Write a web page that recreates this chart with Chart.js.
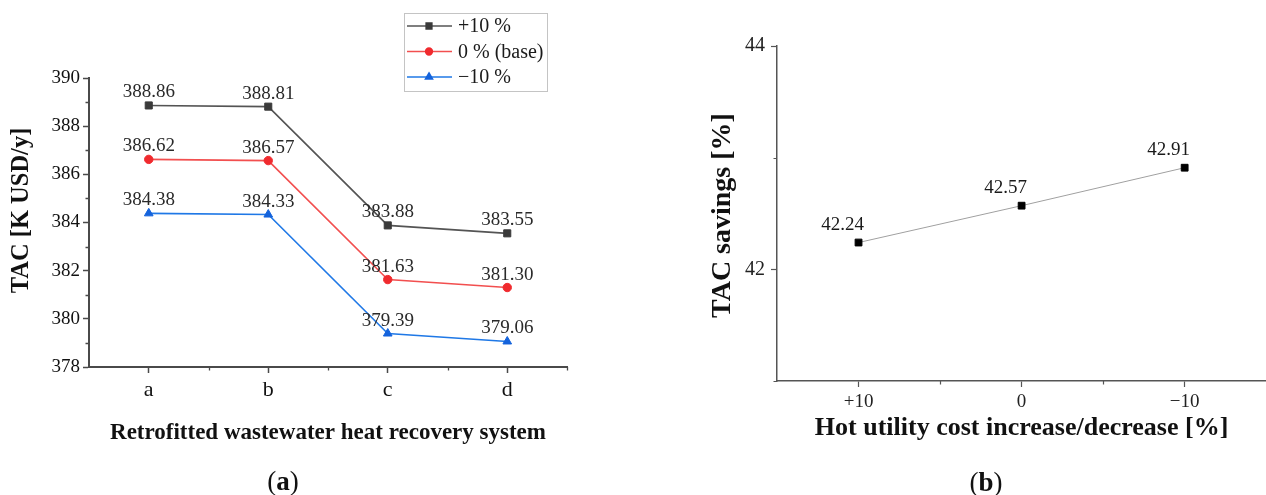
<!DOCTYPE html>
<html><head><meta charset="utf-8">
<script src="https://cdn.jsdelivr.net/npm/chart.js@4.4.0/dist/chart.umd.min.js"></script>
<style>
html,body{margin:0;padding:0;background:#fff;}
#wrap{position:relative;width:1266px;height:495px;overflow:hidden;background:#fff;}
.pane{position:absolute;top:0;height:495px;}
.cap{position:absolute;font-family:'Liberation Serif','Times New Roman',serif;font-size:27px;color:#111;transform:translate(-50%,-50%);white-space:nowrap;line-height:1;}
</style></head><body>
<div id="wrap">
  <div class="pane" style="left:0;width:640px"><canvas id="ca" width="640" height="495"></canvas></div>
  <div class="pane" style="left:640px;width:632px"><canvas id="cb" width="632" height="495"></canvas></div>
  <div class="cap" style="left:283px;top:481px">(<b>a</b>)</div>
  <div class="cap" style="left:986px;top:482px">(<b>b</b>)</div>
</div>
<script>
// ---------- data ----------
const categoriesA = ['a', 'b', 'c', 'd'];
const seriesNames = ['+10 %', '0 % (base)', '\u221210 %'];
const plus10  = [388.86, 388.81, 383.88, 383.55];
const base0   = [386.62, 386.57, 381.63, 381.30];
const minus10 = [384.38, 384.33, 379.39, 379.06];
const yRangeA = [378, 390];
const yStepA = 2;
const yMinorA = [379, 381, 383, 385, 387, 389];

const categoriesB = ['+10', '0', '\u221210'];
const savings = [42.24, 42.57, 42.91];
const yRangeB = [41, 44];
const yTicksB = [42, 44];
const yMinorB = [41, 43];

const titlesA = {x: 'Retrofitted wastewater heat recovery system', y: 'TAC [K USD/y]'};
const titlesB = {x: 'Hot utility cost increase/decrease [%]', y: 'TAC savings [%]'};

// ---------- plugins ----------
const FONT = "'Liberation Serif','Times New Roman',serif";

const minorTicks = {
  id: 'minorTicks',
  afterDraw(chart, args, o) {
    const ctx = chart.ctx, xs = chart.scales.x, ys = chart.scales.y;
    ctx.save();
    ctx.strokeStyle = o.color; ctx.lineWidth = o.width;
    ctx.beginPath();
    (o.x || []).forEach(v => { const p = Math.round(xs.getPixelForValue(v)) + 0.5; ctx.moveTo(p, xs.top); ctx.lineTo(p, xs.top + o.len); });
    (o.y || []).forEach(v => { const p = Math.round(ys.getPixelForValue(v)) + 0.5; ctx.moveTo(ys.right, p); ctx.lineTo(ys.right - o.len, p); });
    ctx.stroke();
    ctx.restore();
  }
};

const valueLabels = {
  id: 'valueLabels',
  afterDatasetsDraw(chart, args, o) {
    const ctx = chart.ctx;
    ctx.save();
    ctx.font = o.font; ctx.fillStyle = o.color; ctx.textAlign = 'center'; ctx.textBaseline = 'alphabetic';
    chart.data.datasets.forEach((ds, i) => {
      chart.getDatasetMeta(i).data.forEach((pt, j) => {
        ctx.fillText(ds.data[j].toFixed(2), pt.x + o.dx, pt.y + o.dy);
      });
    });
    ctx.restore();
  }
};

const axisTitles = {
  id: 'axisTitles',
  afterDraw(chart, args, o) {
    const ctx = chart.ctx, a = chart.chartArea;
    ctx.save();
    ctx.fillStyle = '#111'; ctx.textAlign = 'center'; ctx.textBaseline = 'middle';
    ctx.font = o.xFont;
    ctx.fillText(o.xText, (a.left + a.right) / 2, a.bottom + o.xOff);
    ctx.translate(o.yX, (a.top + a.bottom) / 2 + o.yOff);
    ctx.rotate(-Math.PI / 2);
    ctx.font = o.yFont;
    ctx.fillText(o.yText, 0, 0);
    ctx.restore();
  }
};

const boxLegend = {
  id: 'boxLegend',
  afterDraw(chart, args, o) {
    if (!o.show) return;
    const ctx = chart.ctx;
    ctx.save();
    ctx.fillStyle = '#fff';
    ctx.fillRect(o.x, o.y, o.w, o.h);
    ctx.strokeStyle = '#c4c4c4'; ctx.lineWidth = 1;
    ctx.strokeRect(o.x + 0.5, o.y + 0.5, o.w, o.h);
    chart.data.datasets.forEach((ds, i) => {
      const cy = o.y + o.row0 + i * o.gap;
      ctx.strokeStyle = ds.borderColor; ctx.lineWidth = ds.borderWidth;
      ctx.beginPath(); ctx.moveTo(o.x + 3, cy); ctx.lineTo(o.x + 48, cy); ctx.stroke();
      ctx.fillStyle = ds.pointBackgroundColor; ctx.strokeStyle = ds.pointBorderColor;
      Chart.helpers.drawPoint(ctx, {pointStyle: ds.pointStyle, radius: ds.pointRadius * 0.8, borderWidth: 1, rotation: 0}, o.x + 25, cy);
      ctx.fillStyle = '#1a1a1a'; ctx.font = o.font; ctx.textAlign = 'left'; ctx.textBaseline = 'middle';
      ctx.fillText(ds.label, o.x + 54, cy + 1);
    });
    ctx.restore();
  }
};

// ---------- chart (a) ----------
const colA = [
  {line: '#545454', pt: '#3a3a3a', style: 'rect', r: 5},
  {line: '#f24f4f', pt: '#f02a2e', style: 'circle', r: 4.2},
  {line: '#1f78e6', pt: '#1463dc', style: 'triangle', r: 5}
];
const seriesA = [plus10, base0, minus10];

new Chart(document.getElementById('ca'), {
  type: 'line',
  data: {
    labels: categoriesA,
    datasets: seriesA.map((d, i) => ({
      label: seriesNames[i], data: d,
      borderColor: colA[i].line, backgroundColor: colA[i].pt,
      pointBackgroundColor: colA[i].pt, pointBorderColor: colA[i].pt,
      pointStyle: colA[i].style, pointRadius: colA[i].r, pointBorderWidth: 1,
      borderWidth: 1.6, tension: 0
    }))
  },
  options: {
    responsive: false, animation: false, events: [],
    layout: {padding: {top: 78, right: 73, left: 0, bottom: 0}},
    plugins: {
      legend: {display: false}, tooltip: {enabled: false},
      valueLabels: {font: `19px ${FONT}`, color: '#2a2a2a', dx: 0, dy: -8},
      minorTicks: {x: [0.5, 1.5, 2.5, 3.5], y: yMinorA, len: 3.5, color: '#4a4a4a', width: 1.3},
      axisTitles: {xText: titlesA.x, yText: titlesA.y, xFont: `bold 23px ${FONT}`, yFont: `bold 24.5px ${FONT}`, xOff: 66, yX: 22, yOff: -12},
      boxLegend: {show: true, x: 404, y: 13, w: 143, h: 78, row0: 13, gap: 25.5, font: `20px ${FONT}`}
    },
    scales: {
      x: {
        type: 'category', offset: true,
        grid: {display: true, drawOnChartArea: false, tickLength: 6, tickColor: '#4a4a4a', tickWidth: 1.5},
        border: {color: '#4a4a4a', width: 2},
        ticks: {font: {family: FONT, size: 22}, color: '#111', padding: 4, maxRotation: 0},
        afterFit(s) { s.height = 128; }
      },
      y: {
        min: yRangeA[0], max: yRangeA[1],
        grid: {display: true, drawOnChartArea: false, tickLength: 6, tickColor: '#4a4a4a', tickWidth: 1.5},
        border: {color: '#4a4a4a', width: 2},
        ticks: {stepSize: yStepA, font: {family: FONT, size: 19}, color: '#111', padding: 3},
        afterFit(s) { s.width = 89; }
      }
    }
  },
  plugins: [minorTicks, valueLabels, axisTitles, boxLegend]
});

// ---------- chart (b) ----------
new Chart(document.getElementById('cb'), {
  type: 'line',
  data: {
    labels: categoriesB,
    datasets: [{
      label: 'TAC savings', data: savings,
      borderColor: '#a0a0a0', borderWidth: 1,
      pointStyle: 'rect', pointRadius: 4.8, pointBorderWidth: 1,
      pointBackgroundColor: '#000', pointBorderColor: '#000', tension: 0
    }]
  },
  options: {
    responsive: false, animation: false, events: [],
    layout: {padding: {top: 46, right: 0, left: 0, bottom: 0}},
    plugins: {
      legend: {display: false}, tooltip: {enabled: false},
      valueLabels: {font: `19px ${FONT}`, color: '#1a1a1a', dx: -16, dy: -13},
      minorTicks: {x: [0.5, 1.5], y: yMinorB, len: 3.5, color: '#555', width: 1.2},
      axisTitles: {xText: titlesB.x, yText: titlesB.y, xFont: `bold 26px ${FONT}`, yFont: `bold 28px ${FONT}`, xOff: 47, yX: 83, yOff: 2},
      boxLegend: {show: false}
    },
    scales: {
      x: {
        type: 'category', offset: true,
        grid: {display: true, drawOnChartArea: false, tickLength: 6, tickColor: '#555', tickWidth: 1.2},
        border: {color: '#555', width: 1.5},
        ticks: {font: {family: FONT, size: 19}, color: '#222', padding: 4, maxRotation: 0},
        afterFit(s) { s.height = 114; }
      },
      y: {
        min: yRangeB[0], max: yRangeB[1],
        afterBuildTicks(s) { s.ticks = yTicksB.map(v => ({value: v})); },
        grid: {display: true, drawOnChartArea: false, tickLength: 6, tickColor: '#555', tickWidth: 1.2},
        border: {color: '#555', width: 1.5},
        ticks: {font: {family: FONT, size: 20}, color: '#222', padding: 6},
        afterFit(s) { s.width = 137; }
      }
    }
  },
  plugins: [minorTicks, valueLabels, axisTitles]
});
</script>
</body></html>
